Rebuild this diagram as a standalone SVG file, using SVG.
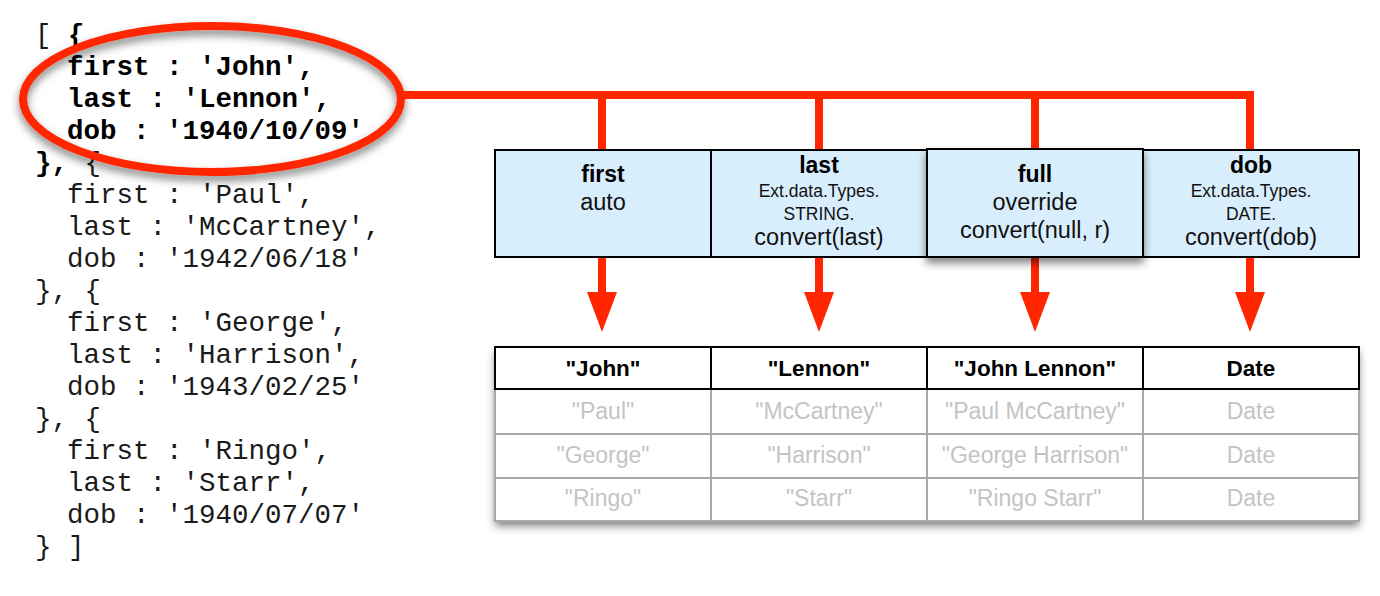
<svg xmlns="http://www.w3.org/2000/svg" width="1380" height="596" viewBox="0 0 1380 596">
<defs>
<style>
.code{font-family:"Liberation Mono","Courier New",monospace;font-size:27.5px;fill:#1a1a1a;white-space:pre}
.b{font-weight:bold;fill:#000}
.hd{font-family:"Liberation Sans",Arial,sans-serif;font-size:23px;font-weight:bold;fill:#000;text-anchor:middle}
.rg{font-family:"Liberation Sans",Arial,sans-serif;font-size:23.5px;fill:#111;text-anchor:middle}
.sm{font-family:"Liberation Sans",Arial,sans-serif;font-size:17.5px;fill:#111;text-anchor:middle}
.th{font-family:"Liberation Sans",Arial,sans-serif;font-size:22.5px;font-weight:bold;fill:#000;text-anchor:middle}
.tg{font-family:"Liberation Sans",Arial,sans-serif;font-size:23px;fill:#c4c4c4;text-anchor:middle}
.box{fill:#d9eefc;stroke:#000;stroke-width:2}
.red{stroke:#ff2600;stroke-width:8;fill:none}
.ah{fill:#ff2600}
</style>
<filter id="sh" x="-20%" y="-20%" width="140%" height="160%">
<feDropShadow dx="0" dy="5" stdDeviation="4" flood-color="#000" flood-opacity="0.5"/>
</filter>
</defs>
<rect width="1380" height="596" fill="#fff"/>

<g id="code">
<text class="code" x="35" y="43">[ <tspan class="b">{</tspan></text>
<text class="code b" x="67" y="75">first : 'John',</text>
<text class="code b" x="67" y="107">last : 'Lennon',</text>
<text class="code b" x="67" y="139">dob : '1940/10/09'</text>
<text class="code" x="35" y="171"><tspan class="b">},</tspan> {</text>
<text class="code" x="67" y="203">first : 'Paul',</text>
<text class="code" x="67" y="235">last : 'McCartney',</text>
<text class="code" x="67" y="267">dob : '1942/06/18'</text>
<text class="code" x="35" y="299">}, {</text>
<text class="code" x="67" y="331">first : 'George',</text>
<text class="code" x="67" y="363">last : 'Harrison',</text>
<text class="code" x="67" y="395">dob : '1943/02/25'</text>
<text class="code" x="35" y="427">}, {</text>
<text class="code" x="67" y="459">first : 'Ringo',</text>
<text class="code" x="67" y="491">last : 'Starr',</text>
<text class="code" x="67" y="523">dob : '1940/07/07'</text>
<text class="code" x="35" y="555">} ]</text>
</g>

<g id="highlight">
<ellipse cx="212" cy="99" rx="189" ry="73" class="red" filter="url(#sh)"/>
</g>

<g id="connectors">
<path class="red" d="M400 95 H1250 V150"/>
<line class="red" x1="602" y1="95" x2="602" y2="150"/>
<line class="red" x1="819" y1="95" x2="819" y2="150"/>
<line class="red" x1="1035" y1="95" x2="1035" y2="150"/>
<line class="red" x1="602" y1="257" x2="602" y2="294"/>
<polygon class="ah" points="587,292 617,292 602,332"/>
<line class="red" x1="819" y1="257" x2="819" y2="294"/>
<polygon class="ah" points="804,292 834,292 819,332"/>
<line class="red" x1="1035" y1="257" x2="1035" y2="294"/>
<polygon class="ah" points="1020,292 1050,292 1035,332"/>
<line class="red" x1="1250" y1="257" x2="1250" y2="294"/>
<polygon class="ah" points="1235,292 1265,292 1250,332"/>
</g>

<g id="field-first">
<rect class="box" x="495" y="150" width="216" height="107"/>
<text class="hd" x="603" y="182">first</text>
<text class="rg" x="603" y="210">auto</text>
</g>
<g id="field-last">
<rect class="box" x="711" y="150" width="216" height="107"/>
<text class="hd" x="819" y="173">last</text>
<text class="sm" x="819" y="197">Ext.data.Types.</text>
<text class="sm" x="819" y="220">STRING.</text>
<text class="rg" x="819" y="245">convert(last)</text>
</g>
<g id="field-dob">
<rect class="box" x="1143" y="150" width="216" height="107"/>
<text class="hd" x="1251" y="173">dob</text>
<text class="sm" x="1251" y="197">Ext.data.Types.</text>
<text class="sm" x="1251" y="220">DATE.</text>
<text class="rg" x="1251" y="245">convert(dob)</text>
</g>
<g id="field-full">
<rect class="box" x="927" y="149" width="216" height="108" stroke-width="3.5" filter="url(#sh)"/>
<text class="hd" x="1035" y="182">full</text>
<text class="rg" x="1035" y="210">override</text>
<text class="rg" x="1035" y="238">convert(null, r)</text>
</g>

<g id="records">
<rect x="495" y="347" width="864" height="174" fill="#fff" filter="url(#sh)"/>
<g stroke="#a8a8a8" stroke-width="2" fill="none">
<rect x="495" y="389" width="864" height="132"/>
<line x1="495" y1="434" x2="1359" y2="434"/>
<line x1="495" y1="478" x2="1359" y2="478"/>
<line x1="711" y1="389" x2="711" y2="521"/>
<line x1="927" y1="389" x2="927" y2="521"/>
<line x1="1143" y1="389" x2="1143" y2="521"/>
</g>
<g stroke="#000" stroke-width="2" fill="none">
<rect x="495" y="347" width="864" height="42"/>
<line x1="711" y1="347" x2="711" y2="389"/>
<line x1="927" y1="347" x2="927" y2="389"/>
<line x1="1143" y1="347" x2="1143" y2="389"/>
</g>
<text class="th" x="603" y="376">"John"</text>
<text class="th" x="819" y="376">"Lennon"</text>
<text class="th" x="1035" y="376">"John Lennon"</text>
<text class="th" x="1251" y="376">Date</text>
<text class="tg" x="603" y="419">"Paul"</text>
<text class="tg" x="819" y="419">"McCartney"</text>
<text class="tg" x="1035" y="419">"Paul McCartney"</text>
<text class="tg" x="1251" y="419">Date</text>
<text class="tg" x="603" y="463">"George"</text>
<text class="tg" x="819" y="463">"Harrison"</text>
<text class="tg" x="1035" y="463">"George Harrison"</text>
<text class="tg" x="1251" y="463">Date</text>
<text class="tg" x="603" y="506">"Ringo"</text>
<text class="tg" x="819" y="506">"Starr"</text>
<text class="tg" x="1035" y="506">"Ringo Starr"</text>
<text class="tg" x="1251" y="506">Date</text>
</g>
</svg>
